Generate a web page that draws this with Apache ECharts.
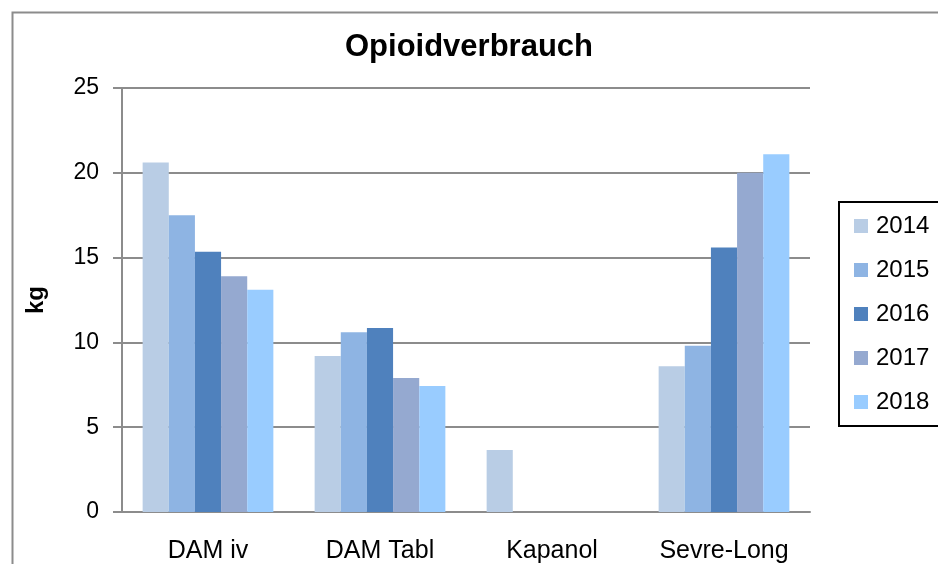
<!DOCTYPE html>
<html>
<head>
<meta charset="utf-8">
<script src="https://cdn.jsdelivr.net/npm/echarts@6/dist/echarts.min.js"></script>
<style>
  html, body { margin: 0; padding: 0; background: #fff; }
  #chart { width: 938px; height: 564px; }
</style>
</head>
<body>
<div id="chart"></div>
<script>
const categories = ['DAM iv', 'DAM Tabl', 'Kapanol', 'Sevre-Long']
const years = ['2014', '2015', '2016', '2017', '2018']
const v2014 = [20.6, 9.2, 3.66, 8.6]
const v2015 = [17.5, 10.6, null, 9.8]
const v2016 = [15.35, 10.85, null, 15.6]
const v2017 = [13.9, 7.9, null, 20.0]
const v2018 = [13.1, 7.43, null, 21.1]
const colors = ['#B9CDE5', '#8EB4E3', '#4F81BD', '#95A9D0', '#99CCFF']

const seriesValues = [v2014, v2015, v2016, v2017, v2018]
const font = 'Liberation Sans, Arial, sans-serif'

const chart = echarts.init(document.getElementById('chart'))
chart.setOption({
  animation: false,
  color: colors,
  // outer chart frame
  graphic: [
    {
      type: 'rect',
      left: 10,
      top: 10,
      shape: { width: 1000, height: 1000 },
      style: { fill: 'none', stroke: '#8c8c8c', lineWidth: 2 },
      silent: true
    }
  ],
  title: {
    text: 'Opioidverbrauch',
    left: 'center',
    top: 27,
    textStyle: { fontFamily: font, fontSize: 31, fontWeight: 'bold', color: '#000' }
  },
  legend: {
    orient: 'vertical',
    left: 839,
    top: 202,
    width: 120,
    padding: [12, 30, 12, 15],
    itemGap: 20,
    itemWidth: 14,
    itemHeight: 14,
    icon: 'rect',
    borderColor: '#000',
    borderWidth: 2,
    borderRadius: 0,
    textStyle: { fontFamily: font, fontSize: 24, color: '#000', padding: [0, 0, 0, 3] },
    data: years
  },
  grid: {
    left: 122,
    right: 128,
    top: 88,
    bottom: 52,
    containLabel: false
  },
  xAxis: {
    type: 'category',
    data: categories,
    axisTick: { show: false },
    axisLine: { lineStyle: { color: '#8c8c8c', width: 2 } },
    axisLabel: { fontFamily: font, fontSize: 25, color: '#000', margin: 27 }
  },
  yAxis: {
    type: 'value',
    min: 0,
    max: 25,
    interval: 5,
    name: 'kg',
    nameLocation: 'middle',
    nameGap: 74,
    nameTextStyle: { fontFamily: font, fontSize: 24, fontWeight: 'bold', color: '#000' },
    axisLine: { show: true, lineStyle: { color: '#8c8c8c', width: 2 } },
    axisTick: { show: true, inside: false, length: 9, lineStyle: { color: '#8c8c8c', width: 2 } },
    splitLine: { lineStyle: { color: '#8c8c8c', width: 2 } },
    axisLabel: { fontFamily: font, fontSize: 23, color: '#000', margin: 23 }
  },
  series: years.map((y, i) => ({
    name: y,
    type: 'bar',
    data: seriesValues[i],
    barGap: '0%',
    barCategoryGap: '24%'
  }))
})
</script>
</body>
</html>
